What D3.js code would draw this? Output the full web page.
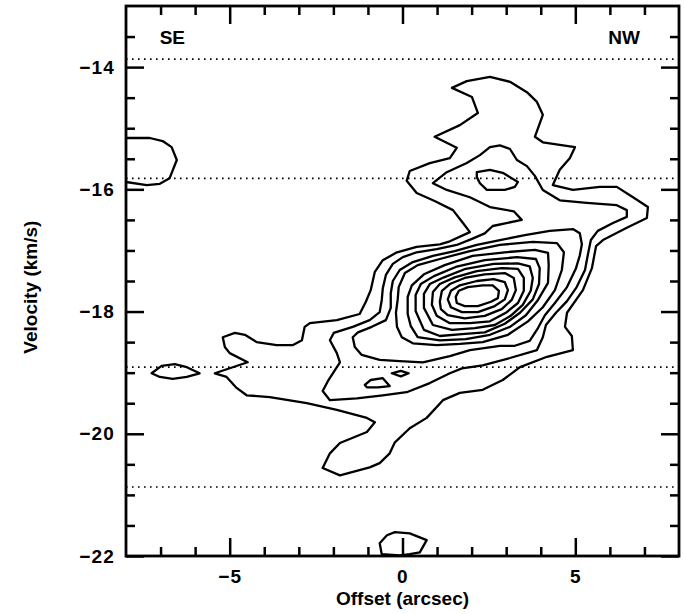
<!DOCTYPE html>
<html>
<head>
<meta charset="utf-8">
<script src="https://cdn.jsdelivr.net/npm/d3@7"></script>
<style>
body { margin: 0; background: #fff; }
text { font-family: "Liberation Sans", Arial, sans-serif; }
</style>
</head>
<body>
<svg width="684" height="614"></svg>
<script>
// axis ranges and ticks
var offsetRange = [-8, 8];
var velocityRange = [-22, -13];
var offsetMajor = [-5, 0, 5];
var offsetMinor = [-7, -6, -4, -3, -2, -1, 1, 2, 3, 4, 6, 7];
var velocityMajor = [-22, -20, -18, -16, -14];
var velocityMinor = [-21.5, -21, -20.5, -19.5, -19, -18.5, -17.5, -17, -16.5, -15.5, -15, -14.5, -13.5];
// dotted reference velocities
var dottedVelocities = [-13.87, -15.82, -18.91, -20.87];

// contour lines, [offset arcsec, velocity km/s]
var contour1 = [[1.43,-14.34],[1.86,-14.23],[2.53,-14.16],[3.11,-14.24],[3.60,-14.41],[3.89,-14.57],[4.06,-14.78],[3.83,-15.14],[4.06,-15.23],[4.99,-15.31],[4.84,-15.49],[4.55,-15.68],[4.35,-15.93],[4.93,-16.01],[5.71,-15.96],[6.20,-15.96],[6.67,-16.13],[7.10,-16.29],[7.07,-16.47],[6.49,-16.63],[5.80,-16.83],[5.60,-16.93],[5.48,-17.29],[5.22,-17.65],[4.76,-18.02],[4.70,-18.25],[4.90,-18.40],[4.93,-18.63],[4.18,-18.74],[3.40,-18.91],[2.90,-19.12],[2.32,-19.28],[1.66,-19.33],[1.17,-19.45],[0.70,-19.74],[0.21,-19.91],[-0.22,-20.14],[-0.37,-20.32],[-0.66,-20.48],[-0.95,-20.55],[-1.81,-20.68],[-2.31,-20.56],[-2.10,-20.32],[-1.81,-20.15],[-1.03,-19.97],[-0.80,-19.81],[-1.03,-19.74],[-1.90,-19.61],[-2.77,-19.50],[-3.84,-19.40],[-4.51,-19.37],[-4.80,-19.25],[-5.09,-19.07],[-5.43,-19.01],[-4.48,-18.83],[-5.00,-18.68],[-5.14,-18.58],[-5.20,-18.42],[-4.85,-18.35],[-4.56,-18.38],[-4.22,-18.50],[-3.64,-18.55],[-3.18,-18.55],[-2.91,-18.47],[-2.83,-18.25],[-2.68,-18.19],[-1.90,-18.14],[-1.24,-18.04],[-1.06,-17.84],[-0.92,-17.65],[-0.80,-17.35],[-0.57,-17.16],[-0.16,-17.03],[0.41,-16.94],[1.08,-16.90],[1.37,-16.85],[1.95,-16.70],[1.75,-16.55],[1.46,-16.34],[0.93,-16.19],[0.41,-16.06],[0.12,-15.86],[0.21,-15.70],[0.79,-15.57],[1.37,-15.49],[1.57,-15.32],[0.93,-15.14],[1.66,-14.95],[2.18,-14.75],[2.01,-14.49]];
var contour1Left = [[-8.0,-15.16],[-7.31,-15.16],[-6.94,-15.21],[-6.68,-15.31],[-6.53,-15.52],[-6.74,-15.82],[-7.02,-15.91],[-7.40,-15.93],[-8.0,-15.88]];
var contour1Lens = [[-7.26,-19.01],[-6.97,-18.89],[-6.59,-18.86],[-6.24,-18.91],[-5.87,-19.01],[-6.24,-19.07],[-6.65,-19.10],[-7.02,-19.07]];
var contour1Bottom = [[-0.60,-21.97],[-0.66,-21.79],[-0.45,-21.66],[-0.22,-21.61],[0.21,-21.63],[0.70,-21.74],[0.50,-21.94],[0.21,-21.97],[-0.08,-21.99]];
var contour2 = [[0.88,-15.90],[1.28,-15.72],[1.86,-15.57],[2.24,-15.44],[2.53,-15.31],[2.82,-15.28],[3.11,-15.34],[3.31,-15.52],[3.60,-15.62],[3.83,-15.78],[4.06,-16.01],[4.55,-16.18],[5.33,-16.22],[6.20,-16.26],[6.49,-16.34],[6.49,-16.45],[6.09,-16.55],[5.65,-16.68],[5.45,-16.83],[5.36,-17.08],[5.28,-17.32],[5.04,-17.60],[4.76,-17.83],[4.44,-18.02],[4.15,-18.22],[4.06,-18.42],[3.89,-18.63],[3.11,-18.76],[2.32,-18.88],[1.72,-18.93],[1.37,-19.01],[0.79,-19.17],[0.12,-19.32],[-0.57,-19.37],[-1.32,-19.42],[-2.10,-19.45],[-2.31,-19.30],[-2.16,-19.14],[-1.81,-18.83],[-1.90,-18.68],[-2.10,-18.47],[-1.99,-18.35],[-1.44,-18.25],[-0.95,-18.14],[-0.66,-18.01],[-0.60,-17.81],[-0.57,-17.62],[-0.48,-17.40],[-0.28,-17.22],[0.01,-17.11],[0.41,-17.03],[0.99,-16.98],[1.57,-16.91],[2.01,-16.81],[2.38,-16.72],[2.61,-16.60],[3.45,-16.50],[3.22,-16.36],[2.53,-16.29],[1.95,-16.13],[1.28,-16.01]];
var contour3 = [[-1.44,-18.42],[-1.29,-18.34],[-0.89,-18.25],[-0.48,-18.14],[-0.34,-17.94],[-0.34,-17.70],[-0.28,-17.50],[-0.08,-17.32],[0.30,-17.19],[0.88,-17.09],[1.51,-17.01],[2.15,-16.91],[2.82,-16.83],[3.54,-16.75],[4.26,-16.68],[4.93,-16.65],[5.13,-16.72],[5.19,-16.90],[5.13,-17.08],[5.02,-17.29],[4.76,-17.60],[4.41,-17.86],[4.12,-18.06],[3.92,-18.27],[3.68,-18.48],[3.25,-18.56],[2.82,-18.56],[1.95,-18.63],[1.37,-18.73],[0.59,-18.83],[-0.08,-18.81],[-0.66,-18.79],[-1.18,-18.71],[-1.38,-18.58]];
var contour3Top = [[2.15,-15.72],[2.53,-15.68],[2.90,-15.73],[3.34,-15.88],[3.25,-15.96],[2.96,-16.01],[2.44,-16.01],[2.24,-15.90],[2.15,-15.80]];
var contour3Tri = [[-1.09,-19.20],[-0.92,-19.12],[-0.57,-19.09],[-0.37,-19.22],[-0.71,-19.24],[-1.03,-19.24]];
var contour3Dot = [[-0.31,-19.01],[-0.05,-18.97],[0.18,-19.01],[-0.05,-19.06]];
var contour4 = [[-0.14,-17.81],[-0.11,-17.60],[0.07,-17.37],[0.44,-17.24],[1.08,-17.14],[1.95,-17.01],[2.82,-16.91],[3.77,-16.86],[4.47,-16.88],[4.67,-17.03],[4.61,-17.32],[4.41,-17.65],[4.06,-17.93],[3.63,-18.16],[3.05,-18.38],[2.32,-18.50],[1.66,-18.53],[0.99,-18.55],[0.30,-18.52],[-0.02,-18.42],[-0.16,-18.25],[-0.19,-18.02]];
var contour5 = [[0.15,-18.04],[0.15,-17.76],[0.27,-17.57],[0.62,-17.39],[1.22,-17.24],[2.03,-17.09],[2.96,-17.03],[3.83,-16.99],[4.21,-17.04],[4.23,-17.24],[4.21,-17.53],[3.92,-17.81],[3.57,-18.06],[3.11,-18.25],[2.53,-18.38],[1.83,-18.45],[1.08,-18.47],[0.44,-18.42],[0.24,-18.24]];
var contour6 = [[0.38,-17.99],[0.38,-17.73],[0.53,-17.55],[0.91,-17.42],[1.54,-17.27],[2.38,-17.16],[3.31,-17.11],[3.86,-17.14],[3.97,-17.29],[3.95,-17.55],[3.77,-17.80],[3.40,-18.02],[2.96,-18.20],[2.38,-18.34],[1.72,-18.37],[1.08,-18.40],[0.62,-18.30]];
var contour7 = [[0.62,-17.94],[0.62,-17.71],[0.79,-17.55],[1.20,-17.44],[1.83,-17.30],[2.64,-17.22],[3.34,-17.21],[3.68,-17.26],[3.77,-17.45],[3.71,-17.66],[3.48,-17.89],[3.13,-18.07],[2.67,-18.22],[2.09,-18.27],[1.43,-18.30],[0.88,-18.22]];
var contour8 = [[0.85,-17.89],[0.88,-17.68],[1.08,-17.55],[1.51,-17.44],[2.15,-17.34],[2.87,-17.29],[3.34,-17.30],[3.51,-17.45],[3.51,-17.66],[3.34,-17.86],[2.99,-18.02],[2.53,-18.16],[1.95,-18.19],[1.37,-18.19],[0.99,-18.07]];
var contour9 = [[1.08,-17.84],[1.14,-17.66],[1.37,-17.55],[1.80,-17.45],[2.38,-17.39],[2.96,-17.37],[3.22,-17.45],[3.28,-17.65],[3.16,-17.81],[2.87,-17.96],[2.38,-18.07],[1.80,-18.11],[1.31,-18.06],[1.11,-17.96]];
var contour10 = [[1.31,-17.80],[1.40,-17.66],[1.66,-17.57],[2.15,-17.50],[2.64,-17.47],[2.96,-17.52],[3.05,-17.65],[2.96,-17.80],[2.67,-17.91],[2.18,-18.01],[1.72,-18.01],[1.40,-17.93]];
var contour11 = [[1.54,-17.76],[1.63,-17.66],[1.89,-17.60],[2.32,-17.57],[2.61,-17.57],[2.79,-17.66],[2.76,-17.78],[2.56,-17.84],[2.18,-17.91],[1.80,-17.91],[1.57,-17.86]];

var closedContours = [contour1, contour1Lens, contour1Bottom, contour2, contour3, contour3Top, contour3Tri, contour3Dot,
  contour4, contour5, contour6, contour7, contour8, contour9, contour10, contour11];
var openContours = [contour1Left];

var cornerLabels = [{text: "SE", offset: -6.66, velocity: -13.62}, {text: "NW", offset: 6.41, velocity: -13.62}];

var svg = d3.select("svg"),
    width = +svg.attr("width"),
    height = +svg.attr("height");

var x = d3.scaleLinear().domain(offsetRange).range([126, 679]);
var y = d3.scaleLinear().domain(velocityRange).range([556, 6]);

var fmt = d3.format("d");

svg.append("clipPath").attr("id", "plot")
  .append("rect")
  .attr("x", x(offsetRange[0])).attr("y", y(velocityRange[1]))
  .attr("width", x(offsetRange[1]) - x(offsetRange[0]))
  .attr("height", y(velocityRange[0]) - y(velocityRange[1]));

// dotted lines
svg.append("g").selectAll("line")
  .data(dottedVelocities)
  .enter().append("line")
  .attr("x1", x(offsetRange[0])).attr("x2", x(offsetRange[1]))
  .attr("y1", function(d) { return y(d); })
  .attr("y2", function(d) { return y(d); })
  .attr("stroke", "#000")
  .attr("stroke-width", 1.6)
  .attr("stroke-dasharray", "1.6,4.4");

// contours
var line = d3.line()
  .x(function(d) { return x(d[0]); })
  .y(function(d) { return y(d[1]); });

var cg = svg.append("g").attr("clip-path", "url(#plot)")
  .attr("fill", "none").attr("stroke", "#000")
  .attr("stroke-width", 2.3).attr("stroke-linejoin", "round");

cg.selectAll("path.closed")
  .data(closedContours)
  .enter().append("path")
  .attr("class", "closed")
  .attr("d", line.curve(d3.curveLinearClosed));

cg.selectAll("path.open")
  .data(openContours)
  .enter().append("path")
  .attr("class", "open")
  .attr("d", d3.line().x(function(d) { return x(d[0]); }).y(function(d) { return y(d[1]); }));

// axes, ticks pointing inward on all sides
function styleAxis(g) {
  g.select(".domain").remove();
  g.selectAll("line").attr("stroke", "#000").attr("stroke-width", 2.5);
  g.selectAll("text")
    .attr("fill", "#000")
    .style("font-size", "19px")
    .style("font-weight", "bold")
    .style("letter-spacing", "1.2px");
}

svg.append("g").attr("transform", "translate(0," + y(velocityRange[0]) + ")")
  .call(d3.axisBottom(x).tickValues(offsetMajor).tickSize(-18).tickPadding(14).tickFormat(fmt))
  .call(styleAxis);
svg.append("g").attr("transform", "translate(0," + y(velocityRange[0]) + ")")
  .call(d3.axisBottom(x).tickValues(offsetMinor).tickSize(-9).tickFormat(""))
  .call(styleAxis);
svg.append("g").attr("transform", "translate(0," + y(velocityRange[1]) + ")")
  .call(d3.axisTop(x).tickValues(offsetMajor).tickSize(-18).tickFormat(""))
  .call(styleAxis);
svg.append("g").attr("transform", "translate(0," + y(velocityRange[1]) + ")")
  .call(d3.axisTop(x).tickValues(offsetMinor).tickSize(-9).tickFormat(""))
  .call(styleAxis);

svg.append("g").attr("transform", "translate(" + x(offsetRange[0]) + ",0)")
  .call(d3.axisLeft(y).tickValues(velocityMajor).tickSize(-18).tickPadding(11).tickFormat(fmt))
  .call(styleAxis);
svg.append("g").attr("transform", "translate(" + x(offsetRange[0]) + ",0)")
  .call(d3.axisLeft(y).tickValues(velocityMinor).tickSize(-9).tickFormat(""))
  .call(styleAxis);
svg.append("g").attr("transform", "translate(" + x(offsetRange[1]) + ",0)")
  .call(d3.axisRight(y).tickValues(velocityMajor).tickSize(-18).tickFormat(""))
  .call(styleAxis);
svg.append("g").attr("transform", "translate(" + x(offsetRange[1]) + ",0)")
  .call(d3.axisRight(y).tickValues(velocityMinor).tickSize(-9).tickFormat(""))
  .call(styleAxis);

// frame
svg.append("rect")
  .attr("x", x(offsetRange[0])).attr("y", y(velocityRange[1]))
  .attr("width", x(offsetRange[1]) - x(offsetRange[0]))
  .attr("height", y(velocityRange[0]) - y(velocityRange[1]))
  .attr("fill", "none").attr("stroke", "#000").attr("stroke-width", 2.8);

// SE / NW
svg.selectAll("text.corner")
  .data(cornerLabels)
  .enter().append("text")
  .attr("class", "corner")
  .attr("x", function(d) { return x(d.offset); })
  .attr("y", function(d) { return y(d.velocity); })
  .attr("text-anchor", "middle")
  .style("font-size", "19px").style("font-weight", "bold")
  .text(function(d) { return d.text; });

// axis titles
svg.append("text")
  .attr("x", x(0)).attr("y", 605)
  .attr("text-anchor", "middle")
  .style("font-size", "19px").style("font-weight", "bold")
  .text("Offset (arcsec)");

svg.append("text")
  .attr("transform", "translate(37," + y(-17.6) + ") rotate(-90)")
  .attr("text-anchor", "middle")
  .style("font-size", "19px").style("font-weight", "bold")
  .text("Velocity (km/s)");
</script>
</body>
</html>
